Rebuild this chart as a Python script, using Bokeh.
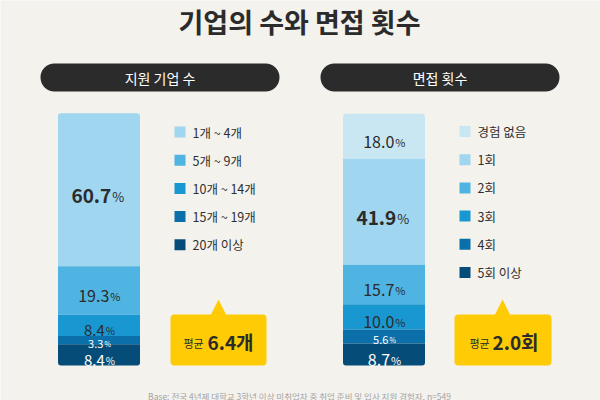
from bokeh.plotting import figure
from bokeh.models import Range1d, ColumnDataSource
from bokeh.core.properties import value
from bokeh.embed import file_html
from bokeh.resources import INLINE

# ---------------- data ----------------
title_text = "기업의 수와 면접 횟수"
left_title = "지원 기업 수"
right_title = "면접 횟수"
left_cats = ["1개 ~ 4개", "5개 ~ 9개", "10개 ~ 14개", "15개 ~ 19개", "20개 이상"]
left_vals = [60.7, 19.3, 8.4, 3.3, 8.4]
right_cats = ["경험 없음", "1회", "2회", "3회", "4회", "5회 이상"]
right_vals = [18.0, 41.9, 15.7, 10.0, 5.6, 8.7]
avg_label = "평균"
left_avg = "6.4개"
right_avg = "2.0회"
footnote = "Base: 전국 4년제 대학교 3학년 이상 미취업자 중 취업 준비 및 입사 지원 경험자, n=549"

# ---------------- styles ----------------
FONT = "Noto Sans CJK KR"
BG = "#f4f2ed"
DARK = "#2b2b2b"
YELLOW = "#ffcb05"
left_colors = ["#a0d6ef", "#4fb4e1", "#1897d1", "#0b6fa9", "#064c78"]
right_colors = ["#c9e7f3", "#a0d6ef", "#4fb4e1", "#1897d1", "#0b6fa9", "#064c78"]

W, H = 600, 400
p = figure(width=W, height=H, output_backend="svg", toolbar_location=None,
           x_range=Range1d(0, W), y_range=Range1d(H, 0),
           min_border=0, background_fill_color=BG, border_fill_color=BG)
p.axis.visible = False
p.grid.visible = False
p.outline_line_color = None

# percent scale for bars: 0% at pixel 365, 100% at pixel 113
BASE, TOP100 = 365.0, 113.0
ppu = (BASE - TOP100) / 100.0
p.extra_y_ranges = {"pct": Range1d(-(H - BASE) / ppu, BASE / ppu)}

# title
p.text(x=[299], y=[21], text=[title_text], text_font=value(FONT), text_font_size="27px",
       text_font_style="bold", text_color=DARK, text_align="center", text_baseline="middle")

# pills
for (l, r), t in [((40, 279), left_title), ((320, 559), right_title)]:
    p.quad(left=[l], right=[r], top=[63], bottom=[91], fill_color=DARK, line_color=None,
           border_radius=14)
    p.text(x=[(l + r) / 2], y=[77], text=[t], text_font=value(FONT), text_font_size="14px",
           text_color="white", text_align="center", text_baseline="middle")


def draw_bar(vals, colors, x0, x1, label_styles):
    n = len(vals)
    bottoms = [sum(vals[i + 1:]) for i in range(n)]
    tops = [bottoms[i] + vals[i] for i in range(n)]
    cx = (x0 + x1) / 2
    for i in range(n):
        if i == 0:
            rad = (3, 3, 0, 0)
        elif i == n - 1:
            rad = (0, 0, 3, 3)
        else:
            rad = 0
        src = ColumnDataSource(dict(l=[x0], r=[x1], b=[bottoms[i]], t=[tops[i]]))
        p.quad(left="l", right="r", bottom="b", top="t", source=src, y_range_name="pct",
               fill_color=colors[i], line_color=None, border_radius=rad)
    for i in range(n):
        size, bold, col = label_styles[i]
        num = f"{vals[i]:.1f}"
        psize = round(size * 0.68)
        wn = size * (0.53 * (len(num) - 1) + 0.26)
        wp = psize * 0.82
        dx = (wn - wp) / 2
        mid = (bottoms[i] + tops[i]) / 2
        yoff = size * 0.34
        p.text(x=[cx + dx], y=[mid], text=[num], y_range_name="pct", text_font=value(FONT),
               text_font_size=f"{size}px", text_font_style="bold" if bold else "normal",
               text_color=col, text_align="right", text_baseline="alphabetic", y_offset=yoff)
        p.text(x=[cx + dx + 1], y=[mid], text=["%"], y_range_name="pct", text_font=value(FONT),
               text_font_size=f"{psize}px", text_color=col, text_align="left",
               text_baseline="alphabetic", y_offset=yoff)


left_styles = [(19, True, DARK), (16, False, DARK), (15, False, DARK), (11, False, "white"), (15, False, "white")]
right_styles = [(16, False, DARK), (19, True, DARK), (16, False, DARK), (16, False, DARK), (11, False, "white"), (16, False, "white")]
draw_bar(left_vals, left_colors, 57.5, 139.5, left_styles)
draw_bar(right_vals, right_colors, 342.5, 424.5, right_styles)

# legends
def draw_legend(cats, colors, sx, tx, y0):
    ys = [y0 + i * 28.2 for i in range(len(cats))]
    p.rect(x=[sx] * len(cats), y=ys, width=11, height=11, fill_color=colors, line_color=None)
    p.text(x=[tx] * len(cats), y=ys, text=cats, text_font=value(FONT), text_font_size="12.5px",
           text_color="#2f2f2f", text_align="left", text_baseline="middle")

draw_legend(left_cats, left_colors, 179.5, 192, 131.5)
draw_legend(right_cats, right_colors, 464.5, 477, 131)

# average callouts
def callout(l, r, tip, lab_x, num_x, num):
    p.quad(left=[l], right=[r], top=[314], bottom=[365], fill_color=YELLOW, line_color=None,
           border_radius=4)
    p.patch(x=[tip - 8, tip + 8, tip], y=[315, 315, 299], fill_color=YELLOW, line_color=None)
    p.text(x=[lab_x], y=[342], text=[avg_label], text_font=value(FONT), text_font_size="11px",
           text_color=DARK, text_align="left", text_baseline="middle")
    p.text(x=[num_x], y=[341], text=[num], text_font=value(FONT), text_font_size="19px",
           text_font_style="bold", text_color=DARK, text_align="left", text_baseline="middle")

callout(170, 266, 218, 183, 207, left_avg)
callout(454, 551, 502, 469, 492, right_avg)

# footnote
p.text(x=[299], y=[395], text=[footnote], text_font=value(FONT), text_font_size="8.5px",
       text_color="#a3a3a3", text_align="center", text_baseline="middle")

html = file_html(p, INLINE)
html = html.replace("<body>", '<body style="background-color:%s;">' % BG, 1)
open("out.html", "w").write(html)
